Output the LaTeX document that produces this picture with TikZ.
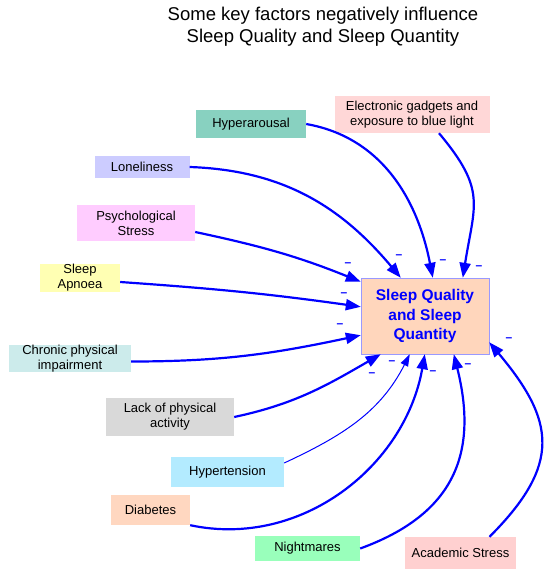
\documentclass[tikz,border=0pt]{standalone}
\usepackage{fontspec}
\setmainfont{Liberation Sans}
\usetikzlibrary{arrows.meta}

\definecolor{cHyper}{HTML}{88D1C0}
\definecolor{cElec}{HTML}{FFD7D7}
\definecolor{cLone}{HTML}{CCCCFF}
\definecolor{cPsych}{HTML}{FFCCFF}
\definecolor{cApnoea}{HTML}{FFFFB3}
\definecolor{cChronic}{HTML}{CCEBEB}
\definecolor{cLack}{HTML}{D9D9D9}
\definecolor{cHten}{HTML}{B3EBFF}
\definecolor{cDiab}{HTML}{FFD7C0}
\definecolor{cNight}{HTML}{99FFBB}
\definecolor{cAcad}{HTML}{FFD0D0}
\definecolor{cMain}{HTML}{FFD6BC}
\definecolor{cMainLine}{HTML}{9999FF}

\begin{document}
\begin{tikzpicture}[x=1pt,y=1pt,
  factor/.style={fill=#1,inner sep=0pt,align=center,font=\fontsize{13}{15}\selectfont},
  sign/.style={text=blue,inner sep=0pt,font=\bfseries\fontsize{12}{12}\selectfont},
  link/.style={draw=blue,line width=2.2pt,-{Triangle[length=15pt,width=11pt]}}]
\useasboundingbox (0,0) rectangle (550,-578);

\node[align=center,font=\fontsize{18.5}{22}\selectfont] (title) at (323,-27) {Some key factors negatively influence\\Sleep Quality and Sleep Quantity};

\node[draw=cMainLine,fill=cMain,minimum width=128pt,minimum height=76pt,align=center,text=blue,font=\bfseries\fontsize{15.5}{19.5}\selectfont] (sleep) at (425,-316) {Sleep Quality\\and Sleep\\Quantity};

\node[factor=cHyper,minimum width=110pt,minimum height=28pt] (hyper) at (251,-124) {Hyperarousal};
\node[factor=cElec,minimum width=155pt,minimum height=37pt] (elec) at (412,-114.5) {Electronic gadgets and\\exposure to blue light};
\node[factor=cLone,minimum width=95pt,minimum height=22pt] (lone) at (142,-167) {Loneliness};
\node[factor=cPsych,minimum width=118pt,minimum height=36pt] (psych) at (136,-223) {Psychological\\Stress};
\node[factor=cApnoea,minimum width=80pt,minimum height=28pt] (apnoea) at (80,-278) {Sleep\\Apnoea};
\node[factor=cChronic,minimum width=122pt,minimum height=27pt] (chronic) at (70,-358.5) {Chronic physical\\impairment};
\node[factor=cLack,minimum width=128pt,minimum height=38pt] (lack) at (170,-417) {Lack of physical\\activity};
\node[factor=cHten,minimum width=113pt,minimum height=30pt] (hten) at (227.5,-472) {Hypertension};
\node[factor=cDiab,minimum width=79pt,minimum height=30pt] (diab) at (150.5,-510) {Diabetes};
\node[factor=cNight,minimum width=105pt,minimum height=25pt] (night) at (307.5,-548.5) {Nightmares};
\node[factor=cAcad,minimum width=111pt,minimum height=32pt] (acad) at (460.5,-553) {Academic Stress};

\path[link] (hyper.east) to[out=-10,in=101] ([xshift=72pt]sleep.north west);
\path[link] ([xshift=27pt]elec.south) to[out=-50,in=81,looseness=1.3] ([xshift=102pt]sleep.north west);
\path[link] (lone.east) to[out=-2,in=130] ([xshift=40pt]sleep.north west);
\path[link] ([yshift=-9pt]psych.east) to[out=-12,in=158] ([yshift=-4pt]sleep.north west);
\path[link] ([yshift=-4pt]apnoea.east) to[out=-4,in=172] ([yshift=-29pt]sleep.north west);
\path[link] ([yshift=-3pt]chronic.east) to[out=0,in=192] ([yshift=19pt]sleep.south west);
\path[link] (lack.east) to[out=12,in=210] ([xshift=20pt]sleep.south west);
\path[draw=blue,line width=1pt,-{Triangle[length=12pt,width=8pt]}] ([yshift=9pt]hten.east) to[out=25,in=243] ([xshift=49pt]sleep.south west);
\path[link] (diab.south east) to[out=-12,in=260] ([xshift=64pt]sleep.south west);
\path[link] (night.east) to[out=20,in=-76,looseness=1.2] ([xshift=93pt]sleep.south west);
\path[link] ([xshift=29pt]acad.north) to[out=45,in=-50,looseness=1.35] ([yshift=12pt]sleep.south east);

\foreach \x/\y [count=\i] in {399/257,443/262,479/268,348/265,344/295,340/326,372/375,392/363,433/373,468/366,509/340}
  \node[sign] (minus\i) at (\x,-\y) {--};
\end{tikzpicture}
\end{document}
